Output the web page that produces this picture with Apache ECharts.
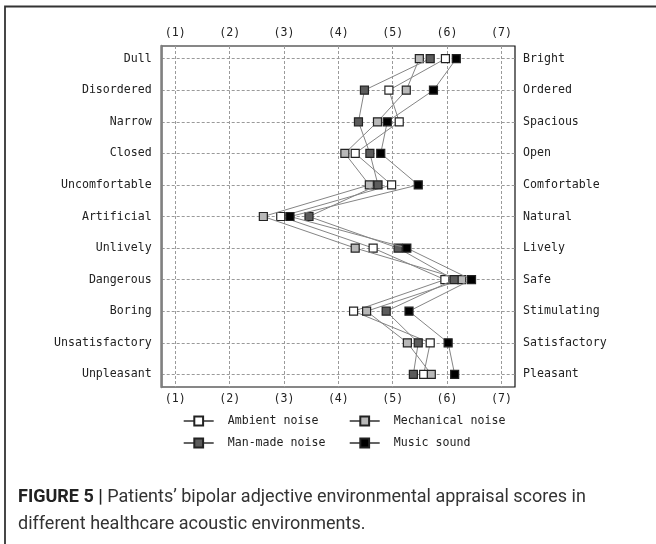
<!DOCTYPE html>
<html>
<head>
<meta charset="utf-8">
<script src="https://cdn.jsdelivr.net/npm/echarts@6/dist/echarts.min.js"></script>
<style>
html,body{margin:0;padding:0;background:#fff;}
#chart{width:656px;height:544px;}
</style>
</head>
<body>
<div id="chart"></div>
<script>
var leftAdjectives = ['Dull','Disordered','Narrow','Closed','Uncomfortable','Artificial','Unlively','Dangerous','Boring','Unsatisfactory','Unpleasant'];
var rightAdjectives = ['Bright','Ordered','Spacious','Open','Comfortable','Natural','Lively','Safe','Stimulating','Satisfactory','Pleasant'];
var scaleTicks = [1,2,3,4,5,6,7];
var scaleTickLabels = ['(1)','(2)','(3)','(4)','(5)','(6)','(7)'];
var seriesNames = ['Ambient noise','Mechanical noise','Man-made noise','Music sound'];
var ambientNoise    = [5.97, 4.93, 5.12, 4.31, 4.98, 2.94, 4.64, 5.96, 4.28, 5.69, 5.57];
var mechanicalNoise = [5.49, 5.25, 4.72, 4.12, 4.57, 2.62, 4.31, 6.27, 4.52, 5.27, 5.71];
var manMadeNoise    = [5.69, 4.48, 4.37, 4.58, 4.73, 3.46, 5.10, 6.13, 4.88, 5.47, 5.38];
var musicSound      = [6.17, 5.75, 4.90, 4.78, 5.47, 3.11, 5.26, 6.45, 5.30, 6.02, 6.14];

var fills = ['#ffffff','#b8b8b8','#5c5c5c','#000000'];
var allValues = [ambientNoise, mechanicalNoise, manMadeNoise, musicSound];
var rowIdx = leftAdjectives.map(function(_, i){ return i; });

var mono = 'DejaVu Sans Mono';
var chart = echarts.init(document.getElementById('chart'));

var series = allValues.map(function(vals, s){
  return {
    name: seriesNames[s],
    type: 'line',
    data: vals.map(function(v, i){ return [v, i]; }),
    symbol: 'rect',
    symbolSize: 8,
    showSymbol: true,
    z: 3 + s,
    lineStyle: {color: '#858585', width: 1},
    itemStyle: {color: fills[s], borderColor: '#222', borderWidth: 1.2},
    emphasis: {disabled: true},
    animation: false
  };
});

function mkLegend(name, left, top){
  return {
    data: [name],
    left: left, top: top,
    itemWidth: 30, itemHeight: 11,
    itemGap: 0,
    padding: 0,
    lineStyle: {color: '#222', width: 1.4},
    textStyle: {fontFamily: mono, fontSize: 11.6, color: '#222', padding: [0,0,0,9]},
    selectedMode: false
  };
}

var gridLine = {show: true, lineStyle: {color: '#9a9a9a', width: 1, type: [3,2]}};

var option = {
  backgroundColor: '#fff',
  animation: false,
  grid: {left: 161.7, right: 141, top: 46, bottom: 157, show: true, borderColor: '#111', borderWidth: 1.2, containLabel: false},
  xAxis: [
    {type: 'value', position: 'bottom', min: 0.75, max: 7.25,
     axisLine: {show: false}, axisTick: {show: false, customValues: scaleTicks},
     splitLine: Object.assign({customValues: scaleTicks}, gridLine),
     axisLabel: {customValues: scaleTicks, margin: 6, fontFamily: mono, fontSize: 11.6, color: '#222',
       formatter: function(v){ return scaleTickLabels[scaleTicks.indexOf(Math.round(v))]; }}},
    {type: 'value', position: 'top', min: 0.75, max: 7.25,
     axisLine: {show: false}, axisTick: {show: false, customValues: scaleTicks},
     splitLine: {show: false},
     axisLabel: {customValues: scaleTicks, margin: 7, fontFamily: mono, fontSize: 11.6, color: '#222',
       formatter: function(v){ return scaleTickLabels[scaleTicks.indexOf(Math.round(v))]; }}}
  ],
  yAxis: [
    {type: 'value', position: 'left', inverse: true, min: -0.4, max: 10.4,
     axisLine: {show: true, lineStyle: {color: '#808080', width: 2.5}},
     axisTick: {show: false, customValues: rowIdx},
     splitLine: Object.assign({customValues: rowIdx}, gridLine),
     axisLabel: {customValues: rowIdx, margin: 10, fontFamily: mono, fontSize: 11.6, color: '#222',
       formatter: function(v){ return leftAdjectives[Math.round(v)]; }}},
    {type: 'value', position: 'right', inverse: true, min: -0.4, max: 10.4,
     axisLine: {show: false}, axisTick: {show: false, customValues: rowIdx},
     splitLine: {show: false},
     axisLabel: {customValues: rowIdx, margin: 8, fontFamily: mono, fontSize: 11.6, color: '#222',
       formatter: function(v){ return rightAdjectives[Math.round(v)]; }}}
  ],
  legend: [
    mkLegend(seriesNames[0], 183, 415),
    mkLegend(seriesNames[1], 349, 415),
    mkLegend(seriesNames[2], 183, 437),
    mkLegend(seriesNames[3], 349, 437)
  ],
  series: series,
  graphic: [
    {type: 'polyline', shape: {points: [[5, 544], [5, 6.5], [656, 6.5]]}, style: {stroke: '#333', lineWidth: 1.8, fill: null}, silent: true},
    {type: 'text', left: 18, top: 484, style: {
      text: '{b|FIGURE 5 |} Patients\u2019 bipolar adjective environmental appraisal scores in\ndifferent healthcare acoustic environments.',
      fontFamily: 'Roboto', fontSize: 18, fill: '#333', lineHeight: 27,
      rich: {b: {fontWeight: 'bold', fontFamily: 'Roboto', fontSize: 18, fill: '#222'}}
    }}
  ]
};
chart.setOption(option);
</script>
</body>
</html>
